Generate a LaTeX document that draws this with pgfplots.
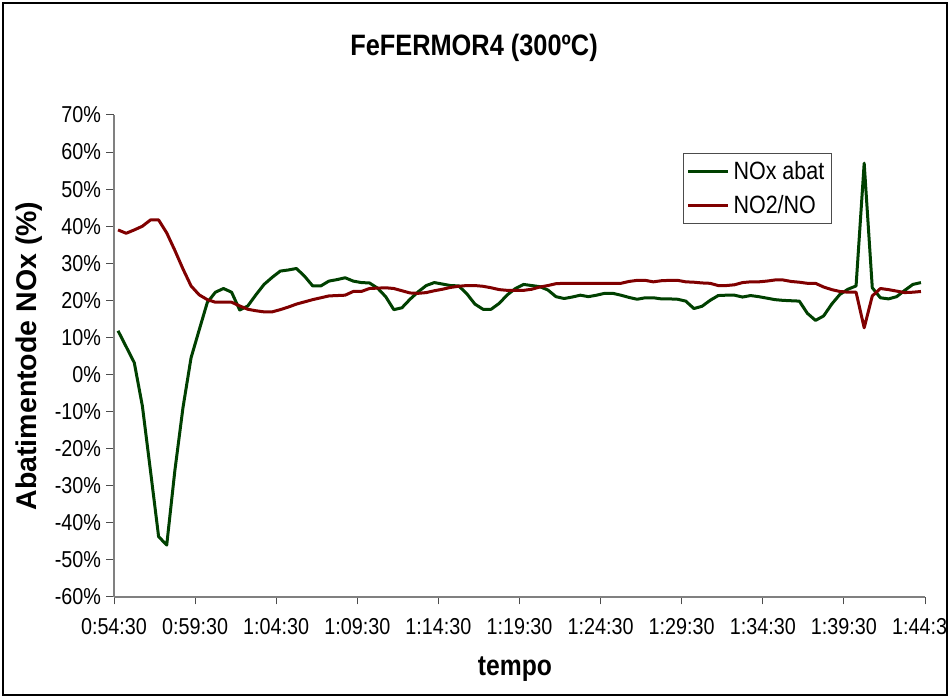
\documentclass[border=0pt]{standalone}
\usepackage{pgfplots}
\usepackage{pgfplotstable}
\pgfplotsset{compat=1.18}
\usepackage{fontspec}
\setmainfont{Liberation Sans}[FakeStretch=0.86]
\newfontfamily\wideface{Liberation Sans}

\definecolor{noxgreen}{RGB}{0,64,0}
\definecolor{nored}{RGB}{128,0,0}

% t = minutes after 0:54:30, nox = NOx abat (%), no2 = NO2/NO (%)
\pgfplotstableread{
t nox no2
0.25 11.8 39.0
0.75 7.5 38.1
1.25 3.2 39.0
1.75 -8.5 40.0
2.25 -26.0 41.7
2.75 -43.7 41.7
3.25 -46.0 38.2
3.75 -26.0 33.5
4.25 -9.0 28.5
4.75 4.5 23.9
5.25 12.0 21.5
5.75 19.4 20.2
6.25 22.2 19.5
6.75 23.2 19.5
7.25 22.2 19.5
7.75 17.4 18.5
8.25 18.5 17.6
8.75 21.5 17.2
9.25 24.3 16.9
9.75 26.2 16.9
10.25 27.9 17.5
10.75 28.2 18.2
11.25 28.6 19.0
11.75 26.5 19.6
12.25 23.9 20.2
12.75 23.9 20.7
13.25 25.2 21.2
13.75 25.6 21.3
14.25 26.1 21.4
14.75 25.2 22.4
15.25 24.8 22.4
15.75 24.7 23.2
16.25 23.3 23.3
16.75 21.0 23.4
17.25 17.5 23.2
17.75 18.0 22.6
18.25 20.3 22.0
18.75 22.3 21.9
19.25 24.0 22.1
19.75 24.8 22.6
20.25 24.4 23.0
20.75 24.0 23.5
21.25 23.9 23.8
21.75 21.8 24.0
22.25 19.0 24.0
22.75 17.6 23.8
23.25 17.6 23.4
23.75 19.2 22.9
24.25 21.5 22.7
24.75 23.2 22.7
25.25 24.3 22.7
25.75 24.0 23.0
26.25 23.7 23.6
26.75 22.8 24.0
27.25 21.0 24.5
27.75 20.5 24.6
28.25 20.9 24.6
28.75 21.4 24.6
29.25 21.0 24.6
29.75 21.4 24.6
30.25 21.9 24.6
30.75 21.9 24.6
31.25 21.4 24.6
31.75 20.8 25.1
32.25 20.3 25.4
32.75 20.7 25.4
33.25 20.7 25.0
33.75 20.4 25.3
34.25 20.4 25.4
34.75 20.3 25.4
35.25 19.8 25.0
35.75 17.8 24.9
36.25 18.4 24.7
36.75 20.0 24.6
37.25 21.3 24.0
37.75 21.4 24.0
38.25 21.4 24.2
38.75 20.9 24.8
39.25 21.3 25.0
39.75 21.0 25.0
40.25 20.6 25.2
40.75 20.2 25.5
41.25 20.0 25.5
41.75 19.9 25.1
42.25 19.8 24.9
42.75 16.5 24.6
43.25 14.6 24.6
43.75 15.8 23.6
44.25 19.0 22.9
44.75 21.6 22.4
45.25 23.0 22.2
45.75 23.9 22.2
46.25 57.0 12.6
46.75 23.4 21.2
47.25 20.7 23.2
47.75 20.4 22.9
48.25 21.0 22.5
48.75 22.7 22.1
49.25 24.3 22.2
49.75 24.8 22.4
}\datatable

\begin{document}
\begin{tikzpicture}[x=1pt,y=1pt]
\useasboundingbox (0,0) rectangle (952,698);
\begin{scope}
\clip (3,3) rectangle (947,695);
\begin{axis}[
  at={(114pt,101pt)}, anchor=south west,
  width=811pt, height=482pt, scale only axis,
  xmin=0, xmax=50, ymin=-60, ymax=70,
  axis x line*=bottom, axis y line*=left,
  axis line style={-, draw=black!50, line width=1.5pt},
  xtick={0,5,...,50},
  xticklabels={0:54:30,0:59:30,1:04:30,1:09:30,1:14:30,1:19:30,1:24:30,1:29:30,1:34:30,1:39:30,1:44:30},
  ytick={-60,-50,...,70},
  yticklabels={-60\%,-50\%,-40\%,-30\%,-20\%,-10\%,0\%,10\%,20\%,30\%,40\%,50\%,60\%,70\%},
  tick align=outside, major tick length=7.5pt,
  tick style={black!70, line width=1pt},
  ticklabel style={font=\fontsize{23}{27}\selectfont},
  xticklabel style={yshift=-10pt},
  yticklabel style={xshift=-2pt},
  legend style={at={(0.7016,0.921)}, anchor=north west, draw=black!70,
    line width=1pt, inner xsep=3pt, inner ysep=4pt,
    nodes={inner sep=4pt}, row sep=6.5pt,
    font=\fontsize{25}{29}\selectfont, legend cell align=left,
    /tikz/every even column/.append style={column sep=0pt}},
  legend image code/.code={\draw[#1] (0pt,0pt) -- (40pt,0pt);},
]
\addplot[noxgreen, line width=3pt, line join=round] table[x=t, y=nox] {\datatable};
\addlegendentry{NOx abat}
\addplot[nored, line width=3pt, line join=round] table[x=t, y=no2] {\datatable};
\addlegendentry{NO2/NO}
\end{axis}
\end{scope}
\node[anchor=base, font=\bfseries\fontsize{29.5}{34}\selectfont] at (474,642) {FeFERMOR4 (300ºC)};
\node[anchor=base, font=\bfseries\fontsize{28.7}{33}\selectfont] at (515,23) {tempo};
\node[anchor=base, rotate=90, font=\wideface\bfseries\fontsize{28.5}{33}\selectfont] at (36,342) {Abatimentode NOx (\%)};
\draw[line width=2pt] (3,3) rectangle (947,695);
\end{tikzpicture}
\end{document}
